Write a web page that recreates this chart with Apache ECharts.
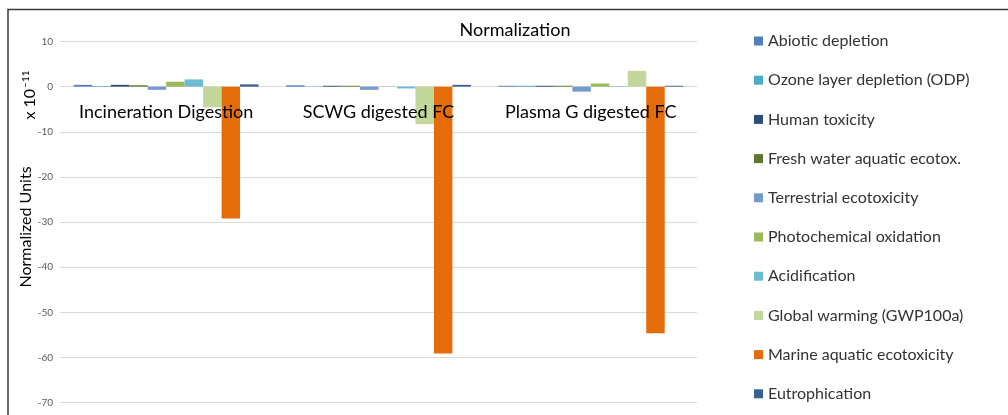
<!DOCTYPE html>
<html>
<head>
<meta charset="utf-8">
<script src="https://cdn.jsdelivr.net/npm/echarts@6/dist/echarts.min.js"></script>
<style>
  html, body { margin: 0; padding: 0; background: #fff; }
  #chart { width: 1008px; height: 415px; }
</style>
</head>
<body>
<div id="chart"></div>
<script>
// categories (x axis) and impact values, in units of 1e-11
const categories = ["Incineration Digestion", "SCWG digested FC", "Plasma G digested FC"];

const abiotic = [0.4, 0.3, 0.2];
const ozone = [0.15, 0.05, 0.2];
const humanTox = [0.4, 0.2, 0.2];
const freshWater = [0.3, 0.2, 0.2];
const terrestrial = [-0.7, -0.7, -1.1];
const photochem = [1.1, 0.05, 0.7];
const acidification = [1.6, -0.4, 0.1];
const globalWarming = [-4.6, -8.3, 3.5];
const marine = [-29.2, -59.1, -54.6];
const eutrophication = [0.5, 0.4, 0.2];

const seriesNames = [
  "Abiotic depletion",
  "Ozone layer depletion (ODP)",
  "Human toxicity",
  "Fresh water aquatic ecotox.",
  "Terrestrial ecotoxicity",
  "Photochemical oxidation",
  "Acidification",
  "Global warming (GWP100a)",
  "Marine aquatic ecotoxicity",
  "Eutrophication",
];
const seriesValues = [
  abiotic, ozone, humanTox, freshWater, terrestrial,
  photochem, acidification, globalWarming, marine, eutrophication,
];
const colors = [
  "#4F81BD", "#4BACC6", "#2C4D75", "#5F7530", "#729ACA",
  "#9BBB59", "#6EBCD1", "#C3D69B", "#E46C0A", "#386192",
];

const FONT = "Lato, 'Open Sans', sans-serif";
const Y_MIN = -80;
const Y_MAX = 10;
const GRID_TOP = 41.5;
const GRID_H = 406.4;
// the category axis sits on the zero line, as in the spreadsheet chart
const zeroOffset = -GRID_H * (0 - Y_MIN) / (Y_MAX - Y_MIN);

const chart = echarts.init(document.getElementById("chart"));

const series = seriesNames.map((name, i) => ({
  name,
  type: "bar",
  data: seriesValues[i],
  barGap: "0%",
  barCategoryGap: "13%",
  itemStyle: { color: colors[i] },
}));

const option = {
  animation: false,
  backgroundColor: "#fff",
  color: colors,
  grid: {
    left: 60,
    top: GRID_TOP,
    width: 637,
    height: GRID_H,
    containLabel: false,
    outerBoundsMode: "none",
  },
  xAxis: {
    type: "category",
    data: categories,
    position: "bottom",
    offset: zeroOffset,
    z: 10,
    axisLine: { show: false, onZero: false },
    axisTick: { show: false },
    axisLabel: {
      margin: 17,
      fontFamily: FONT,
      fontSize: 18,
      color: "#000",
      interval: 0,
    },
  },
  yAxis: {
    type: "value",
    min: Y_MIN,
    max: Y_MAX,
    interval: 10,
    axisLine: { show: false },
    axisTick: { show: false },
    splitLine: { lineStyle: { color: "#D9D9D9", width: 1 } },
    axisLabel: { margin: 7, fontFamily: FONT, fontSize: 10, color: "#595959" },
  },
  legend: {
    orient: "vertical",
    left: 754,
    top: 33,
    padding: 0,
    itemWidth: 9,
    itemHeight: 9,
    itemGap: 23.2,
    icon: "rect",
    textStyle: { fontFamily: FONT, fontSize: 16, color: "#333", lineHeight: 16 },
    data: seriesNames,
  },
  graphic: [
    {
      type: "polyline",
      shape: { points: [[8, 415], [8, 9.5], [1008, 9.5]] },
      style: { stroke: "#3A3A3A", lineWidth: 1.5, fill: null },
      silent: true,
    },
    {
      type: "text",
      x: 515,
      y: 30,
      style: {
        text: "Normalization",
        fontFamily: FONT,
        fontSize: 18,
        fill: "#000",
        align: "center",
        verticalAlign: "middle",
      },
    },
    {
      type: "text",
      x: 26,
      y: 227,
      rotation: Math.PI / 2,
      style: {
        text: "Normalized Units",
        fontFamily: FONT,
        fontSize: 16,
        fill: "#000",
        align: "center",
        verticalAlign: "middle",
      },
    },
    {
      type: "text",
      x: 30,
      y: 95,
      rotation: Math.PI / 2,
      style: {
        text: "{a|x 10}{b|\u221211}",
        align: "center",
        verticalAlign: "middle",
        rich: {
          a: { fontFamily: FONT, fontSize: 16, fill: "#000" },
          b: { fontFamily: FONT, fontSize: 10, fill: "#000", padding: [0, 0, 9, 1] },
        },
      },
    },
  ],
  series,
};

chart.setOption(option);
</script>
</body>
</html>
